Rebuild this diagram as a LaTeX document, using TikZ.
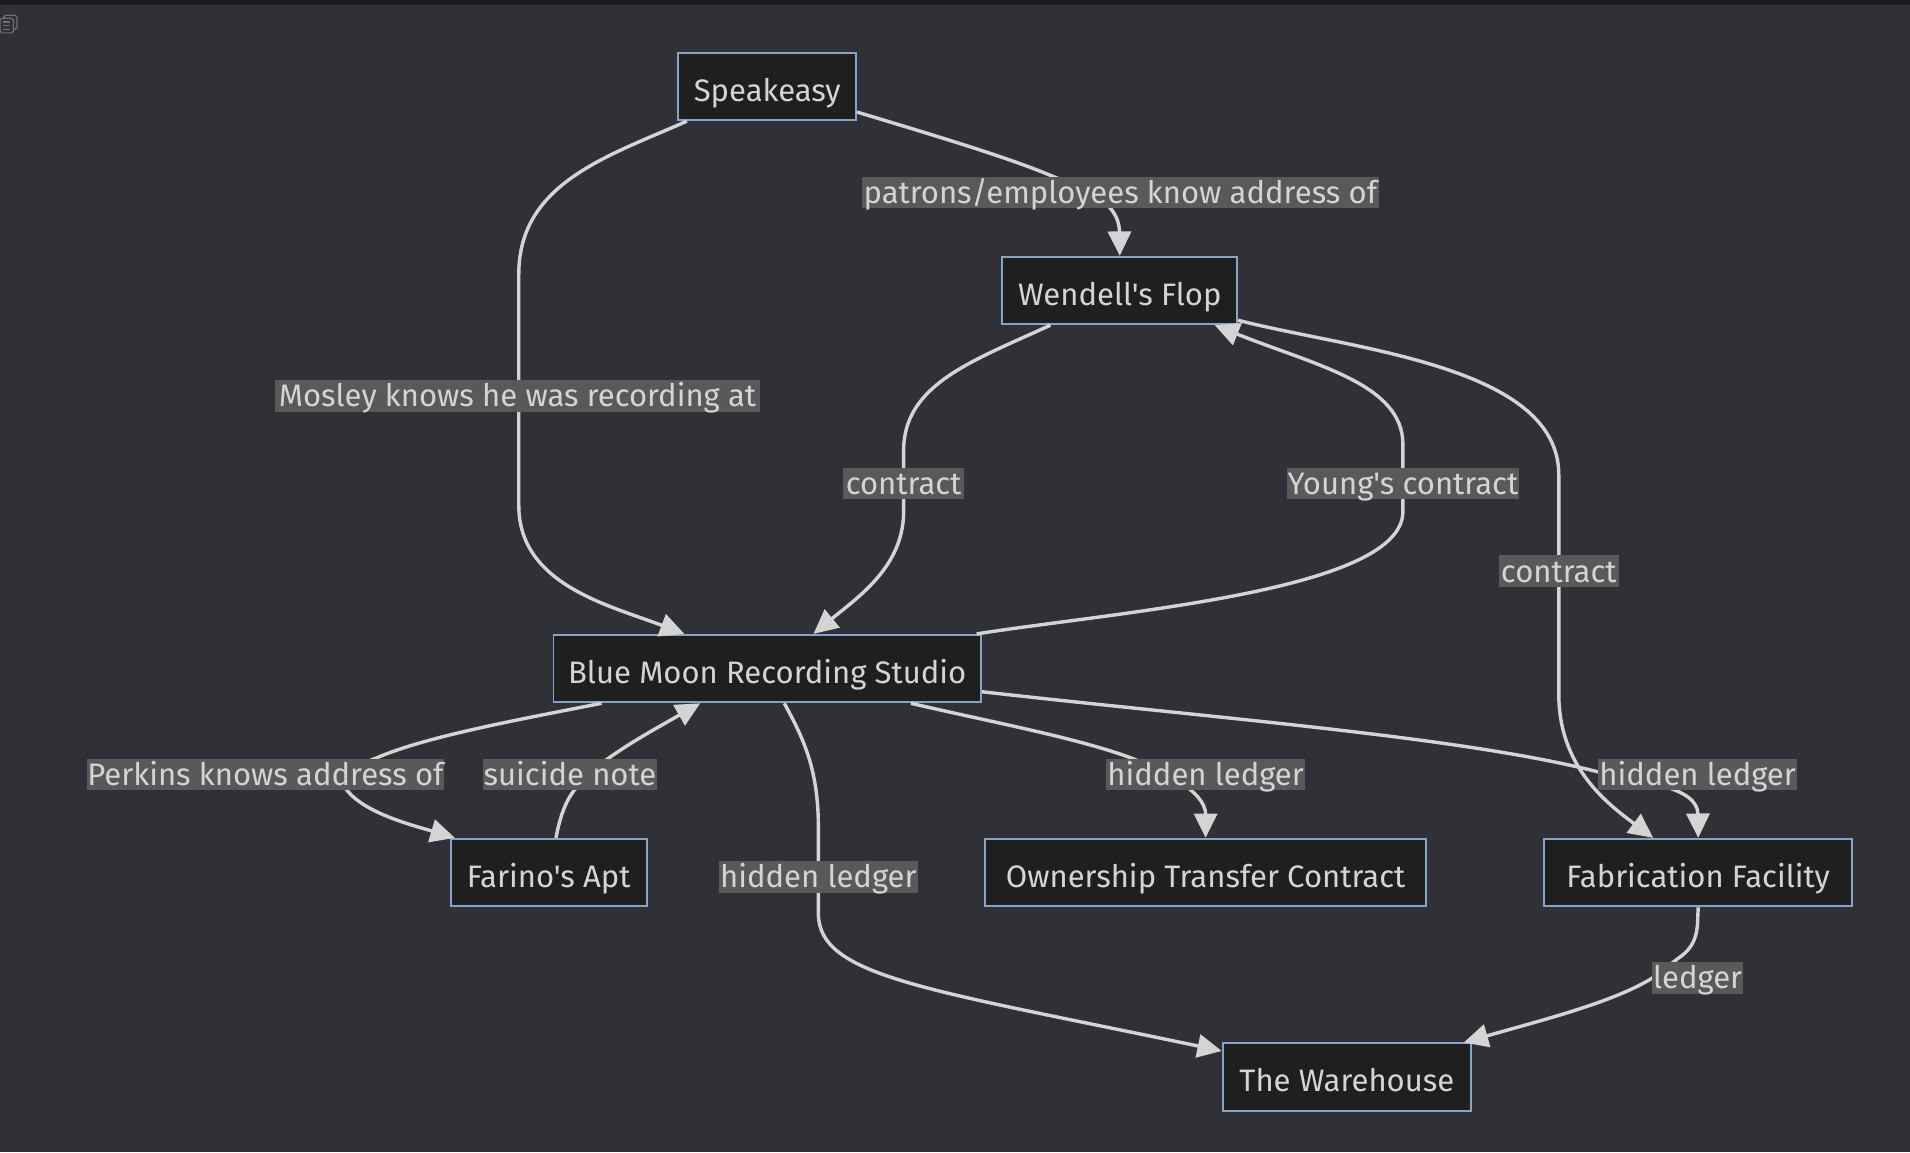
\documentclass[tikz,border=0pt]{standalone}
\usepackage{fontspec}
\setmainfont[Ligatures=TeXOff]{Fira Sans}
\usetikzlibrary{shapes,arrows.meta}
\definecolor{canvasgray}{HTML}{303136}
\definecolor{stripgray}{HTML}{1C1D22}
\definecolor{blockfill}{HTML}{1F1F1F}
\definecolor{blockedge}{HTML}{85A5C8}
\definecolor{labelfill}{HTML}{595959}
\definecolor{inkgray}{HTML}{D4D4D4}
\definecolor{icongray}{HTML}{6E6F73}
\tikzstyle{block} = [rectangle, draw=blockedge, fill=blockfill, text=inkgray, line width=1.5pt,
    minimum height=55.5pt, inner sep=0pt, text height=28pt, text depth=4pt, font=\fontsize{25.5}{30}\selectfont]
\tikzstyle{line} = [draw=inkgray, -{Triangle[length=20pt,width=19pt]}, line width=2.8pt]
\tikzstyle{edgelabel} = [fill=labelfill, text=inkgray, inner sep=0pt, minimum height=26pt,
    text height=22pt, text depth=4pt, font=\fontsize{25.5}{30}\selectfont]

\begin{document}
\begin{tikzpicture}[x=1pt, y=-1pt]
    \useasboundingbox (0,0) rectangle (1568.4,946);
    \fill [canvasgray] (0,0) rectangle (1568.4,946);
    \fill [stripgray] (0,0) rectangle (1568.4,4);
    \draw [icongray, line width=1pt, rounded corners=1.5pt] (0,15) rectangle (11,27);
    \draw [icongray, line width=1pt, rounded corners=1.5pt] (3,15) -- (3,12.5) -- (14,12.5) -- (14,24) -- (11,24);
    \draw [icongray, line width=1pt] (2.5,18) -- (8,18) (2.5,21) -- (8,21) (2.5,24) -- (8,24);

    \node [block, minimum width=146pt] (speakeasy) at (630,71) {Speakeasy};
    \node [block, minimum width=193pt, right of=speakeasy, node distance=289.5pt, yshift=-167.5pt] (flop) {Wendell's Flop};
    \node [block, minimum width=351pt, below of=speakeasy, node distance=478pt] (studio) {Blue Moon Recording Studio};
    \node [block, minimum width=161pt, below of=studio, node distance=167.5pt, xshift=-179.5pt] (apt) {Farino's Apt};
    \node [block, minimum width=362pt, below of=studio, node distance=167.5pt, xshift=360pt] (contract) {Ownership Transfer Contract};
    \node [block, minimum width=253pt, below of=studio, node distance=167.5pt, xshift=764.5pt] (facility) {Fabrication Facility};
    \node [block, minimum width=204pt, below of=contract, node distance=168pt, xshift=116pt] (warehouse) {The Warehouse};

    \path [line] ([xshift=-66pt]speakeasy.south) .. controls (500,128) and (426,150) .. (426,225) -- (426,415)
        .. controls (426,480) and (500,497) .. ([xshift=-68pt]studio.north)
        node [edgelabel, minimum width=398pt, at={(425,325)}] (mosleylabel) {Mosley knows he was recording at};
    \path [line] ([yshift=-21pt]speakeasy.east) .. controls (770,112) and (830,130) .. (865,145)
        .. controls (890,155) and (919,165) .. (flop.north)
        node [edgelabel, minimum width=424pt, at={(920,158)}] (patronslabel) {patrons/employees know address of};
    \path [line] ([xshift=-57pt]flop.south) .. controls (800,296) and (742,315) .. (742,370) -- (742,420)
        .. controls (742,465) and (705,490) .. ([xshift=38pt]studio.north)
        node [edgelabel, minimum width=99pt, at={(742,397)}] (wendelllabel) {contract};
    \path [line] ([xshift=172pt]studio.north) .. controls (920,502) and (1152,485) .. (1152,420) -- (1152,365)
        .. controls (1152,315) and (1080,300) .. ([xshift=78pt]flop.south)
        node [edgelabel, minimum width=191pt, at={(1152,397)}] (younglabel) {Young's contract};
    \path [line] ([yshift=4pt]flop.south east) .. controls (1110,287) and (1280,300) .. (1280,390) -- (1280,570)
        .. controls (1280,630) and (1320,660) .. ([xshift=-37pt]facility.north)
        node [edgelabel, minimum width=99pt, at={(1280,469)}] (flopfablabel) {contract};
    \path [line] ([yshift=-19pt]studio.east) .. controls (1000,590) and (1200,605) .. (1313,634)
        .. controls (1345,642) and (1394,645) .. (facility.north)
        node [edgelabel, minimum width=163pt, at={(1394,636)}] (fablabel) {hidden ledger};
    \path [line] ([xshift=118pt]studio.south) .. controls (810,592) and (880,605) .. (925,621)
        .. controls (955,632) and (990,650) .. (contract.north)
        node [edgelabel, minimum width=163pt, at={(990,636)}] (contractlabel) {hidden ledger};
    \path [line] ([xshift=14pt]studio.south) .. controls (662,610) and (672,635) .. (672,680) -- (672,750)
        .. controls (672,802) and (760,812) .. ([yshift=-7pt]warehouse.north west)
        node [edgelabel, minimum width=163pt, at={(672,720)}] (warehouselabel) {hidden ledger};
    \path [line] ([xshift=-136pt]studio.south) .. controls (420,592) and (350,605) .. (310,622)
        .. controls (295,628) and (272,638) .. (285,649) .. controls (300,668) and (340,678) .. ([xshift=-77pt]apt.north)
        node [edgelabel, minimum width=292pt, at={(218,636)}] (perkinslabel) {Perkins knows address of};
    \path [line] ([xshift=6pt]apt.north) .. controls (460,670) and (465,655) .. (475,645)
        .. controls (490,625) and (530,603) .. ([xshift=-55pt]studio.south)
        node [edgelabel, minimum width=143pt, at={(468,636)}] (suicidelabel) {suicide note};
    \path [line] (facility.south) -- (1394,755) .. controls (1394,775) and (1385,782) .. (1378,787)
        .. controls (1370,793) and (1364,798) .. (1357,803) .. controls (1325,823) and (1265,838) .. ([xshift=96pt]warehouse.north)
        node [edgelabel, minimum width=75pt, at={(1394,803)}] (ledgerlabel) {ledger};
\end{tikzpicture}
\end{document}
